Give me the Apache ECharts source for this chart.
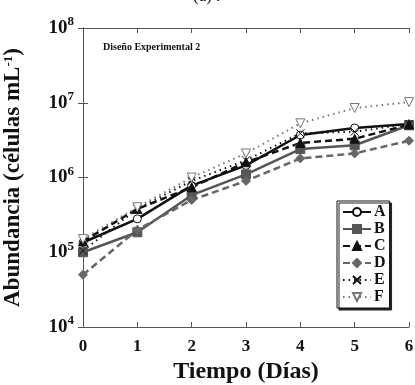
<!DOCTYPE html>
<html><head><meta charset="utf-8">
<script src="https://cdn.jsdelivr.net/npm/echarts@6/dist/echarts.min.js"></script>
<style>html,body{margin:0;padding:0;background:#fff}#c{width:415px;height:385px}</style>
</head><body><div id="c"></div>
<script>
const days = [0, 1, 2, 3, 4, 5, 6];
const seriesNames = ['A', 'B', 'C', 'D', 'E', 'F'];
const valA = [1.35e5, 2.8e5, 7.8e5, 1.45e6, 3.7e6, 4.6e6, 5.2e6];
const valB = [1.0e5, 1.85e5, 5.8e5, 1.1e6, 2.4e6, 2.7e6, 5.0e6];
const valC = [1.4e5, 3.8e5, 7.4e5, 1.6e6, 2.9e6, 3.3e6, 5.1e6];
const valD = [5.0e4, 2.0e5, 5.0e5, 9.0e5, 1.8e6, 2.1e6, 3.1e6];
const valE = [1.05e5, 3.8e5, 9.0e5, 1.7e6, 3.9e6, 4.1e6, 5.2e6];
const valF = [1.5e5, 4.0e5, 1.0e6, 2.1e6, 5.3e6, 8.5e6, 1.02e7];
const yTicks = [1e4, 1e5, 1e6, 1e7, 1e8];

const serif = '"Liberation Serif", "Times New Roman", serif';
const chart = echarts.init(document.getElementById('c'));

function mk(name, data, color, type, symbol, filled, width, size) {
  return {
    name, type: 'line', xAxisIndex: 0, yAxisIndex: 0,
    data: days.map((d, i) => [d, data[i]]),
    symbol, symbolSize: size,
    lineStyle: { color, width, type },
    itemStyle: { color: filled ? color : '#fff', borderColor: color, borderWidth: 1 },
    emphasis: { disabled: true },
    z: 3
  };
}

const series = [
  mk('A', valA, '#111', 'solid', 'circle', false, 2.5, 8),
  mk('B', valB, '#555', 'solid', 'rect', true, 2.5, 9),
  mk('C', valC, '#111', [7, 4], 'triangle', true, 2.5, 9),
  mk('D', valD, '#666', [7, 4], 'diamond', true, 2.5, 9),
  mk('E', valE, '#111', [1.5, 4], 'path://M0,0L10,10M10,0L0,10', false, 2, 8),
  mk('F', valF, '#777', [1.5, 4], 'path://M0,0L10,0L5,9Z', false, 2, 9)
];
series[4].itemStyle = { color: 'none', borderColor: '#111', borderWidth: 1 };
series[5].itemStyle = { color: '#fff', borderColor: '#777', borderWidth: 1 };

chart.setOption({
  animation: false,
  backgroundColor: '#fff',
  grid: { left: 83, right: 6, top: 28, bottom: 58, containLabel: false, outerBoundsMode: 'none' },
  graphic: [
    { type: 'text', left: 103, top: 42, style: { text: 'Diseño Experimental 2', font: 'bold 10px ' + serif, fill: '#111' } },
    { type: 'text', left: 193, top: -12, style: { text: '(a) .', font: '17px ' + serif, fill: '#111' } }
  ],
  legend: {
    orient: 'vertical', left: 337, top: 201,
    data: seriesNames,
    itemWidth: 28, itemHeight: 10, itemGap: 1,
    padding: [3, 4, 3, 5],
    backgroundColor: '#fff', borderColor: '#111', borderWidth: 1,
    shadowColor: '#222', shadowOffsetX: 2, shadowOffsetY: 2, shadowBlur: 0,
    textStyle: { fontFamily: serif, fontWeight: 'bold', fontSize: 16, color: '#111', padding: [0, 0, 0, -2] },
    selectedMode: false
  },
  xAxis: [
    { type: 'value', min: 0, max: 6, interval: 1,
      name: 'Tiempo (Días)', nameLocation: 'middle', nameGap: 31,
      nameTextStyle: { fontFamily: serif, fontWeight: 'bold', fontSize: 24, color: '#111' },
      axisLine: { lineStyle: { color: '#555', width: 1 } },
      axisTick: { inside: true, length: 5, lineStyle: { color: '#555' } },
      axisLabel: { fontFamily: serif, fontWeight: 'bold', fontSize: 17, color: '#111', margin: 11 },
      splitLine: { show: false } },
    { type: 'value', position: 'top', min: 0, max: 6, interval: 1,
      axisLine: { lineStyle: { color: '#555', width: 1 } },
      axisTick: { inside: true, length: 5, lineStyle: { color: '#555' } },
      axisLabel: { show: false }, splitLine: { show: false } }
  ],
  yAxis: [
    { type: 'log', logBase: 10, min: 1e4, max: 1e8,
      name: '{t|Abundancia (células mL}{s|-1}{t|)}', nameLocation: 'middle', nameGap: 58,
      nameTextStyle: { rich: {
        t: { fontFamily: serif, fontWeight: 'bold', fontSize: 23, color: '#111' },
        s: { fontFamily: serif, fontWeight: 'bold', fontSize: 13, color: '#111', verticalAlign: 'top', padding: [0, 0, 9, 0] } } },
      axisLine: { show: true, lineStyle: { color: '#555', width: 1 } },
      axisTick: { inside: true, length: 5, lineStyle: { color: '#555' } },
      minorTick: { show: false },
      axisLabel: { margin: 9, formatter: v => '{b|10}{s|' + Math.round(Math.log10(v)) + '}',
        rich: { b: { fontFamily: serif, fontWeight: 'bold', fontSize: 19, color: '#111' },
                s: { fontFamily: serif, fontWeight: 'bold', fontSize: 13, color: '#111', padding: [0, 0, 12, 0] } } },
      splitLine: { show: false } },
    { type: 'log', logBase: 10, min: 1e4, max: 1e8, position: 'right',
      axisLine: { show: true, lineStyle: { color: '#555', width: 1 } },
      axisTick: { inside: true, length: 5, lineStyle: { color: '#555' } },
      axisLabel: { show: false }, splitLine: { show: false } }
  ],
  series
});
</script></body></html>
